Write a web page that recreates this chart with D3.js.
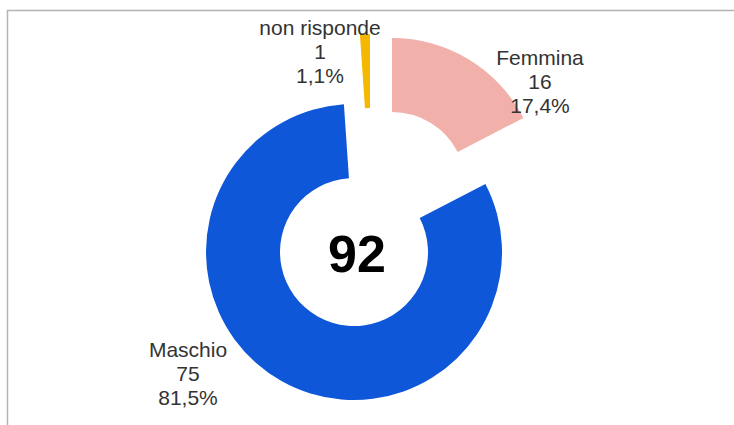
<!DOCTYPE html>
<html>
<head>
<meta charset="utf-8">
<script src="https://cdn.jsdelivr.net/npm/d3@7"></script>
<style>
  body { margin: 0; background: #fff; }
  svg { display: block; font-family: "Liberation Sans", Arial, sans-serif; }
</style>
</head>
<body>
<div id="chart"></div>
<script>
// data
const categories = ["Femmina", "Maschio", "non risponde"];
const values = [16, 75, 1];
const percentLabels = ["17,4%", "81,5%", "1,1%"];

// styling
const colors = ["#f2b0aa", "#0e57d8", "#f5b800"];
const explode = [[38, -66], [0, 0], [16, -70]];      // slice offsets
const labelPos = [[186, -187], [-166, 105], [-34, -217]]; // first line baseline, relative to centre

const width = 734, height = 425;
const cx = 354, cy = 252;
const outerR = 148, innerR = 74;

const svg = d3.select("#chart")
    .append("svg")
    .attr("width", width)
    .attr("height", height);

// frame, only top and left edges visible
svg.append("rect")
    .attr("x", 7.5)
    .attr("y", 10.5)
    .attr("width", width + 10)
    .attr("height", height + 10)
    .attr("fill", "none")
    .attr("stroke", "#b3b3b3")
    .attr("stroke-width", 1.5);

const g = svg.append("g")
    .attr("transform", `translate(${cx}, ${cy})`);

const pie = d3.pie()
    .sort(null)
    .value(d => d);

const arcs = pie(values);

const arcGen = d3.arc()
    .innerRadius(innerR)
    .outerRadius(outerR);

g.selectAll("path.slice")
    .data(arcs)
    .join("path")
    .attr("class", "slice")
    .attr("d", arcGen)
    .attr("fill", (d, i) => colors[i])
    .attr("transform", (d, i) => `translate(${explode[i][0]}, ${explode[i][1]})`);

// labels: name, value, percent
const labels = g.selectAll("text.lbl")
    .data(arcs)
    .join("text")
    .attr("class", "lbl")
    .attr("text-anchor", "middle")
    .attr("fill", "#333")
    .style("font-size", "21px");

labels.each(function(d, i) {
    let t = d3.select(this);
    let lines = [categories[i], values[i], percentLabels[i]];
    lines.forEach(function(s, k) {
        t.append("tspan")
            .attr("x", labelPos[i][0])
            .attr("y", labelPos[i][1] + k * 24)
            .text(s);
    });
});

// total in the middle
g.append("text")
    .attr("x", 3)
    .attr("y", 20)
    .attr("text-anchor", "middle")
    .attr("fill", "#000")
    .style("font-size", "52px")
    .style("font-weight", "bold")
    .text(d3.sum(values));
</script>
</body>
</html>
